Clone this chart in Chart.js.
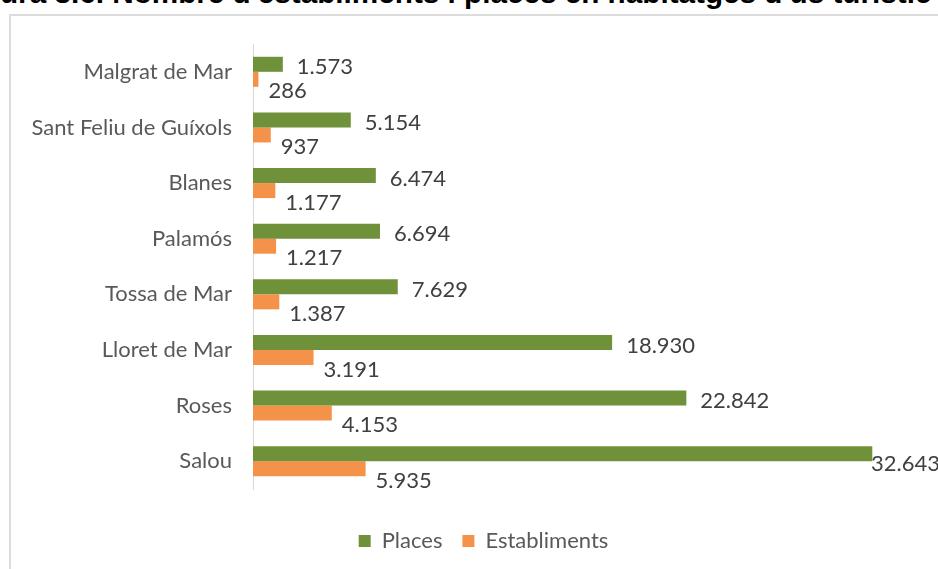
<!DOCTYPE html>
<html>
<head>
<meta charset="utf-8">
<script src="https://cdn.jsdelivr.net/npm/chart.js@4"></script>
<style>
  html, body { margin: 0; padding: 0; background: #fff; }
  #wrap { position: relative; width: 938px; height: 569px; overflow: hidden; }
  #titol { position: absolute; left: 0; top: 0; white-space: nowrap; line-height: 1;
           font-weight: bold; font-family: "Liberation Sans", Arial, sans-serif; color: #000; }
  #marc { position: absolute; left: 9px; top: 14px; width: 940px; height: 600px;
          border-left: 2px solid #dcdcdc; border-top: 2px solid #dcdcdc; }
  #grafic { position: absolute; left: 0; top: 0; }
</style>
</head>
<body>
<div id="wrap">
  <div id="marc"></div>
  <div id="titol">Figura 3.6. Nombre d'establiments i places en habitatges d'ús turístic</div>
  <canvas id="grafic" width="938" height="569"></canvas>
</div>
<script>
// dades llegides del gràfic
var municipis = ['Malgrat de Mar', 'Sant Feliu de Guíxols', 'Blanes', 'Palamós', 'Tossa de Mar', 'Lloret de Mar', 'Roses', 'Salou'];
var places = [1573, 5154, 6474, 6694, 7629, 18930, 22842, 32643];
var establiments = [286, 937, 1177, 1217, 1387, 3191, 4153, 5935];

var FONT = 'Lato, "Open Sans", sans-serif';

// el títol surt retallat per dalt, com a la imatge original
(function() {
    var t = document.getElementById('titol');
    var m = document.createElement('canvas').getContext('2d');
    m.font = 'bold 100px "Liberation Sans", Arial, sans-serif';
    var full = m.measureText(t.textContent).width;
    var tall = m.measureText('Fig').width;
    var s = 932 / ((full - tall) / 100);
    t.style.fontSize = s + 'px';
    t.style.left = (-tall * s / 100) + 'px';
    t.style.top = (3 - 0.8465 * s) + 'px';
})();

function formatNum(v) {
    return v.toString().replace(/\B(?=(\d{3})+(?!\d))/g, '.');
}

// etiquetes de valor a la dreta de cada barra
var etiquetes = {
    id: 'etiquetes',
    afterDatasetsDraw: function(chart) {
        var ctx = chart.ctx;
        ctx.save();
        ctx.font = '22px ' + FONT;
        ctx.fillStyle = '#404040';
        ctx.textBaseline = 'middle';
        chart.data.datasets.forEach(function(ds, i) {
            var meta = chart.getDatasetMeta(i);
            meta.data.forEach(function(bar, j) {
                var txt = formatNum(ds.data[j]);
                var w = ctx.measureText(txt).width;
                var x = bar.x + (i === 1 ? 10 : 14);
                var y = bar.y + (i === 1 ? 12 : 3);
                if (x + w > chart.width) {
                    x = chart.width - w + 2;
                    y += 7;
                }
                ctx.fillText(txt, x, y);
            });
        });
        ctx.restore();
    }
};

// llegenda més avall i una mica a la dreta, com a l'original
var llegenda = {
    id: 'llegenda',
    beforeInit: function(chart) {
        var fit = chart.legend.fit;
        chart.legend.fit = function() {
            fit.call(this);
            this.height = 80;
        };
    },
    afterLayout: function(chart) {
        chart.legend.top += 21;
        chart.legend.bottom += 21;
        chart.legend.left += 25;
        chart.legend.right += 25;
    }
};

var ctx = document.getElementById('grafic').getContext('2d');

var grafic = new Chart(ctx, {
    type: 'bar',
    data: {
        labels: municipis,
        datasets: [{
            label: 'Places',
            data: places,
            backgroundColor: '#6f9139'
        }, {
            label: 'Establiments',
            data: establiments,
            backgroundColor: '#f5924a'
        }]
    },
    options: {
        indexAxis: 'y',
        responsive: false,
        animation: false,
        layout: {
            padding: { top: 44, right: 21, bottom: 0, left: 0 }
        },
        datasets: {
            bar: { categoryPercentage: 0.54, barPercentage: 1 }
        },
        scales: {
            x: {
                display: false,
                min: 0,
                max: 35000
            },
            y: {
                grid: { display: false },
                border: { display: true, color: '#d9d9d9', width: 1 },
                ticks: {
                    color: '#595959',
                    padding: 13,
                    font: { family: FONT, size: 22 }
                },
                afterFit: function(scale) { scale.width = 253; }
            }
        },
        plugins: {
            legend: {
                position: 'bottom',
                labels: {
                    boxWidth: 12,
                    boxHeight: 12,
                    padding: 20,
                    color: '#595959',
                    font: { family: FONT, size: 22 }
                }
            },
            tooltip: { enabled: false }
        }
    },
    plugins: [etiquetes, llegenda]
});
</script>
</body>
</html>
